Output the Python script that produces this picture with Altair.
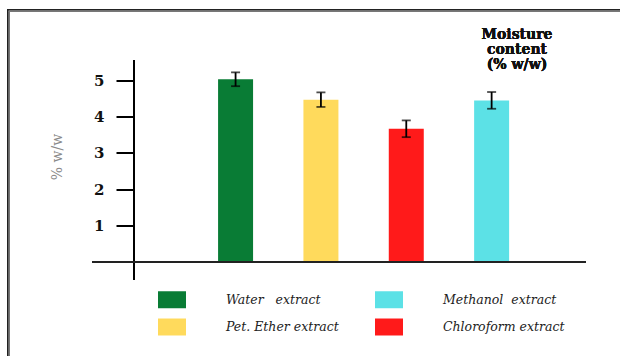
import altair as alt
import pandas as pd

# ---- data ----
extracts = ["Water\u00a0\u00a0\u00a0extract", "Pet. Ether extract", "Chloroform extract", "Methanol\u00a0\u00a0extract"]
moisture = [5.02, 4.46, 3.66, 4.44]
sd = [0.19, 0.20, 0.23, 0.23]
colors = ["#097C35", "#FFDA5C", "#FF1A1A", "#5CE1E6"]
# legend fills column by column: Water, Pet. Ether | Methanol, Chloroform
legend_order = [extracts[0], extracts[1], extracts[3], extracts[2]]
legend_colors = [colors[0], colors[1], colors[3], colors[2]]
y_ticks = [1, 2, 3, 4, 5]
title_lines = ["Moisture", "content", "(% w/w)"]
y_title = "% w/w"

df = pd.DataFrame({"extract": extracts, "moisture": moisture, "sd": sd})

PAD_L, PAD_T = 8.5, 10.5

yscale = alt.Scale(domain=[0, 5], range=[262 - PAD_T, 80 - PAD_T], nice=False, zero=True)
xscale = alt.Scale(range=[166.9, 543.3], paddingInner=0.59, paddingOuter=0.5)
yaxis = alt.Axis(
    title=y_title, values=y_ticks, grid=False, domain=False,
    ticks=True, tickSize=18, tickWidth=2, tickColor="black",
    labelFont="DejaVu Serif", labelFontWeight="bold", labelFontSize=15, labelColor="#111",
    labelPadding=12, offset=-(134 - PAD_L),
    titleFont="DejaVu Serif", titleFontWeight="normal", titleFontSize=14, titleColor="#8a8a8a",
    titleAngle=-90, titleX=-77, titleY=146, titleAlign="center", titleBaseline="middle",
)

bars = alt.Chart(df).mark_bar().encode(
    x=alt.X("extract:N", sort=extracts, scale=xscale, axis=None),
    y=alt.Y("moisture:Q", scale=yscale, axis=yaxis),
    color=alt.Color(
        "extract:N",
        scale=alt.Scale(domain=legend_order, range=legend_colors),
        legend=alt.Legend(
            title=None, orient="none", legendX=158 - PAD_L, legendY=285.5 - PAD_T,
            columns=2, symbolType="M-1,-0.607H1V0.607H-1Z", symbolSize=784,
            symbolStrokeWidth=0, symbolOpacity=1,
            labelFont="DejaVu Serif", labelFontStyle="italic", labelFontSize=12.5,
            labelColor="#222", labelOffset=40, columnPadding=36, rowPadding=4.5,
            labelLimit=300,
        ),
    ),
)

errs = alt.Chart(df).transform_calculate(
    lo="datum.moisture - datum.sd", hi="datum.moisture + datum.sd"
).mark_errorbar(
    ticks={"size": 9, "thickness": 1.8, "color": "black"},
    rule={"strokeWidth": 1.8, "color": "black"},
).encode(
    x=alt.X("extract:N", sort=extracts, scale=xscale, axis=None),
    y=alt.Y("lo:Q", scale=yscale, axis=yaxis),
    y2="hi:Q",
)

yline = alt.Chart(df).mark_rule(color="black", strokeWidth=2).encode(
    x=alt.value(134 - PAD_L), y=alt.value(60 - PAD_T), y2=alt.value(280 - PAD_T)
)
baseline = alt.Chart(df).mark_rule(color="#222", strokeWidth=1.6).encode(
    x=alt.value(92 - PAD_L), x2=alt.value(586 - PAD_L), y=alt.value(262 - PAD_T)
)
# frame (double line: dark outer, grey inner), open to the right and bottom
frame_l_dark = alt.Chart(df).mark_rule(color="#222", strokeWidth=1.5).encode(
    x=alt.value(7.8 - PAD_L), y=alt.value(9.3 - PAD_T), y2=alt.value(400)
)
frame_l_grey = alt.Chart(df).mark_rule(color="#777", strokeWidth=1.2).encode(
    x=alt.value(9.3 - PAD_L), y=alt.value(10.8 - PAD_T), y2=alt.value(400)
)
frame_t_dark = alt.Chart(df).mark_rule(color="#222", strokeWidth=1.5).encode(
    x=alt.value(7.05 - PAD_L), x2=alt.value(700), y=alt.value(9.8 - PAD_T)
)
frame_t_grey = alt.Chart(df).mark_rule(color="#777", strokeWidth=1.2).encode(
    x=alt.value(8.7 - PAD_L), x2=alt.value(700), y=alt.value(11.2 - PAD_T)
)

title_layers = [
    alt.Chart(df).mark_text(
        font="DejaVu Serif", fontWeight="bold", fontSize=14,
        align="center", baseline="middle", color="#111",
    ).encode(x=alt.value(517 - PAD_L), y=alt.value(yy - PAD_T), text=alt.value(t))
    for t, yy in zip(title_lines, [35, 50, 64.5])
]

chart = alt.layer(
    bars, errs, yline, baseline, frame_l_dark, frame_l_grey, frame_t_dark, frame_t_grey,
    *title_layers
).properties(
    width=620 - PAD_L, height=356 - PAD_T,
    autosize=alt.AutoSizeParams(type="none"),
    padding={"left": PAD_L, "top": PAD_T, "right": 0, "bottom": 0},
    background="white",
).configure_view(strokeWidth=0)

chart.save("out.html", embed_options={"renderer": "svg", "actions": False})
